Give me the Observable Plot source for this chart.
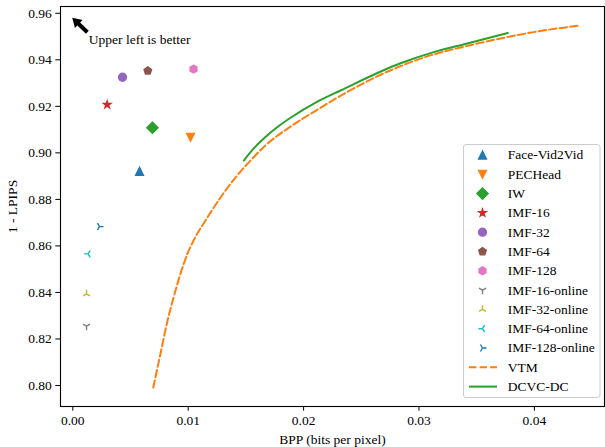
<!DOCTYPE html>
<html><head><meta charset="utf-8">
<script src="https://cdn.jsdelivr.net/npm/d3@7"></script>
<script src="https://cdn.jsdelivr.net/npm/@observablehq/plot@0.6"></script>
<style>
body{margin:0;background:#fff}
#chart svg{display:block}
#chart svg, #chart svg text{font-family:"Liberation Serif","Times New Roman",serif !important}
</style>
</head><body><div id="chart"></div>
<script>
// ---- data ----
const methods = ["Face-Vid2Vid","PECHead","IW","IMF-16","IMF-32","IMF-64","IMF-128","IMF-16-online","IMF-32-online","IMF-64-online","IMF-128-online"];
const methodBpp = [0.00578,0.0102,0.0069,0.00298,0.00431,0.0065,0.01046,0.00119,0.00119,0.00133,0.00231];
const methodScore = [0.8921,0.9067,0.9108,0.9207,0.9325,0.9353,0.9360,0.8255,0.8394,0.8566,0.8683];
const methodColors = ["#1f77b4","#ff7f0e","#2ca02c","#d62728","#9467bd","#8c564b","#e377c2","#7f7f7f","#bcbd22","#17becf","#1f77b4"];
const methodMarkers = ["^","v","D","*","o","p","h","1","2","3","4"];

const vtmBpp = [0.00697,0.00760,0.00821,0.00873,0.00933,0.00994,0.01046,0.01150,0.01280,0.01410,0.01540,0.01670,0.01886,0.02121,0.02346,0.02840,0.03126,0.03420,0.03707,0.03992,0.04399];
const vtmScore = [0.7991,0.8137,0.8279,0.8378,0.8481,0.8567,0.8623,0.8709,0.8808,0.8894,0.8967,0.9032,0.9113,0.9186,0.9253,0.9373,0.9423,0.9460,0.9492,0.9519,0.9548];
const dcvcBpp = [0.01482,0.01568,0.01655,0.01765,0.01887,0.02120,0.02320,0.02840,0.03128,0.03418,0.03770];
const dcvcScore = [0.8967,0.9019,0.9062,0.9108,0.9151,0.9220,0.9268,0.9385,0.9433,0.9470,0.9515];

const lineNames = ["VTM","DCVC-DC"];
const lineColors = ["#ff7f0e","#2ca02c"];

const xTicks = [0,0.01,0.02,0.03,0.04];
const yTicks = [0.80,0.82,0.84,0.86,0.88,0.90,0.92,0.94,0.96];
const xLabel = "BPP (bits per pixel)";
const yLabel = "1 - LPIPS";
const note = "Upper left is better";
const noteTip = [-0.00005, 0.9581];
const noteText = [0.00139, 0.9486];

// ---- matplotlib-like marker symbols ----
const FONT = "Liberation Serif, Times New Roman, serif";
function poly(ctx, pts){ctx.moveTo(pts[0][0],pts[0][1]);for(let i=1;i<pts.length;i++)ctx.lineTo(pts[i][0],pts[i][1]);ctx.closePath();}
function regular(n, r, inner){const pts=[];const m=inner?2*n:n;for(let i=0;i<m;i++){const a=-Math.PI/2+i*Math.PI*2/m;const rr=(inner&&i%2)?r*inner:r;pts.push([rr*Math.cos(a),rr*Math.sin(a)]);}return pts;}
function arms(ctx, dirs, s){for(const [dx,dy] of dirs){ctx.moveTo(0,0);ctx.lineTo(dx*s,dy*s);}}
const half = size => Math.sqrt(size/Math.PI);
const symbols = {
  "^":{draw(c,z){const s=half(z);poly(c,[[0,-s],[-s,s],[s,s]]);}},
  "v":{draw(c,z){const s=half(z);poly(c,[[0,s],[-s,-s],[s,-s]]);}},
  "D":{draw(c,z){const d=half(z)*Math.SQRT2;poly(c,[[0,-d],[d,0],[0,d],[-d,0]]);}},
  "*":{draw(c,z){poly(c,regular(5,half(z),0.381966));}},
  "o":{draw(c,z){const s=half(z);c.moveTo(s,0);c.arc(0,0,s,0,2*Math.PI);c.closePath();}},
  "p":{draw(c,z){poly(c,regular(5,half(z)));}},
  "h":{draw(c,z){poly(c,regular(6,half(z)));}},
  "1":{draw(c,z){arms(c,[[0,1],[-0.866,-0.5],[0.866,-0.5]],half(z));}},
  "2":{draw(c,z){arms(c,[[0,-1],[-0.866,0.5],[0.866,0.5]],half(z));}},
  "3":{draw(c,z){arms(c,[[-1,0],[0.5,-0.866],[0.5,0.866]],half(z));}},
  "4":{draw(c,z){arms(c,[[1,0],[-0.5,-0.866],[-0.5,0.866]],half(z));}}
};
const lineMarker = m => ["1","2","3","4"].includes(m);
// arrow symbol, tip at origin, pointing up-left
const arrowSym = {draw(c){
  const ux=0.721, uy=0.693, px=-0.693, py=0.721;
  const P=(a,b)=>[a*ux+b*px, a*uy+b*py];
  poly(c,[[0,0],P(9,5.5),P(9,2),P(21,2),P(21,-2),P(9,-2),P(9,-5.5)]);
}};

const R = 4.05;
const idx = methods.map((_, i) => i);
const marks = [];
marks.push(Plot.line(vtmBpp.map((_,i)=>i),{x:i=>vtmBpp[i],y:i=>vtmScore[i],stroke:lineColors[0],strokeWidth:2,strokeDasharray:"7.4,3.2",curve:"monotone-x"}));
marks.push(Plot.line(dcvcBpp.map((_,i)=>i),{x:i=>dcvcBpp[i],y:i=>dcvcScore[i],stroke:lineColors[1],strokeWidth:2,curve:"monotone-x"}));
for (const i of idx) {
  const m = methodMarkers[i], col = methodColors[i];
  marks.push(Plot.dot([i],{x:d=>methodBpp[d],y:d=>methodScore[d],symbol:symbols[m],r:R,
    fill: lineMarker(m) ? "none" : col, stroke: col, strokeWidth: lineMarker(m)?1.4:1.2}));
}
marks.push(Plot.dot([0],{x:()=>noteTip[0],y:()=>noteTip[1],symbol:arrowSym,r:4,fill:"black",stroke:"none"}));
marks.push(Plot.text([note],{x:()=>noteText[0],y:()=>noteText[1],text:d=>d,textAnchor:"start",fontSize:13.5,fontFamily:FONT,fill:"black"}));
marks.push(Plot.axisX({ticks:xTicks,tickFormat:d3.format(".2f"),tickSize:4.7,tickPadding:4,fontSize:13.5,fontFamily:FONT,label:xLabel,labelAnchor:"center",labelArrow:"none",labelOffset:37}));
marks.push(Plot.axisY({ticks:yTicks,tickFormat:d3.format(".2f"),tickSize:4.7,tickPadding:4,fontSize:13.5,fontFamily:FONT,label:yLabel,labelAnchor:"center",labelArrow:"none",labelOffset:53}));
marks.push(Plot.frame({stroke:"black",strokeWidth:1.1}));

const chart = Plot.plot({
  width:605, height:447,
  marginTop:6, marginBottom:41, marginLeft:60, marginRight:1,
  style:{fontFamily:FONT,fontSize:"13.5px",background:"white",color:"black"},
  x:{domain:[-0.001066,0.046075]},
  y:{domain:[0.79097,0.96292]},
  marks
});
document.getElementById("chart").appendChild(chart);

// ---- legend (inside plot, lower right) ----
const svg = d3.select(chart);
const lg = svg.append("g").attr("font-family",FONT).attr("font-size",13.5).attr("text-anchor","start");
lg.append("rect").attr("x",463.5).attr("y",144.5).attr("width",136.5).attr("height",253)
  .attr("rx",2.5).attr("fill","white").attr("fill-opacity",0.8).attr("stroke","#cccccc").attr("stroke-width",1);
const entries = methods.map((name,i)=>({name,type:"marker",m:methodMarkers[i],col:methodColors[i]}))
  .concat(lineNames.map((name,i)=>({name,type:"line",col:lineColors[i],dash:i===0})));
entries.forEach((e,i)=>{
  const cy = 155 + i*19.3;
  if (e.type==="marker") {
    const lm = lineMarker(e.m);
    lg.append("path").attr("transform",`translate(482.5,${cy})`)
      .attr("d", d3.symbol(symbols[e.m], R*R*Math.PI)())
      .attr("fill", lm?"none":e.col).attr("stroke",e.col).attr("stroke-width",lm?1.4:1.2);
  } else {
    lg.append("line").attr("x1",469).attr("x2",497).attr("y1",cy).attr("y2",cy)
      .attr("stroke",e.col).attr("stroke-width",2).attr("stroke-dasharray",e.dash?"7.4,3.2":null);
  }
  lg.append("text").attr("x",507.7).attr("y",cy).attr("dy","0.33em").attr("text-anchor","start").attr("fill","black").text(e.name);
});
</script></body></html>
